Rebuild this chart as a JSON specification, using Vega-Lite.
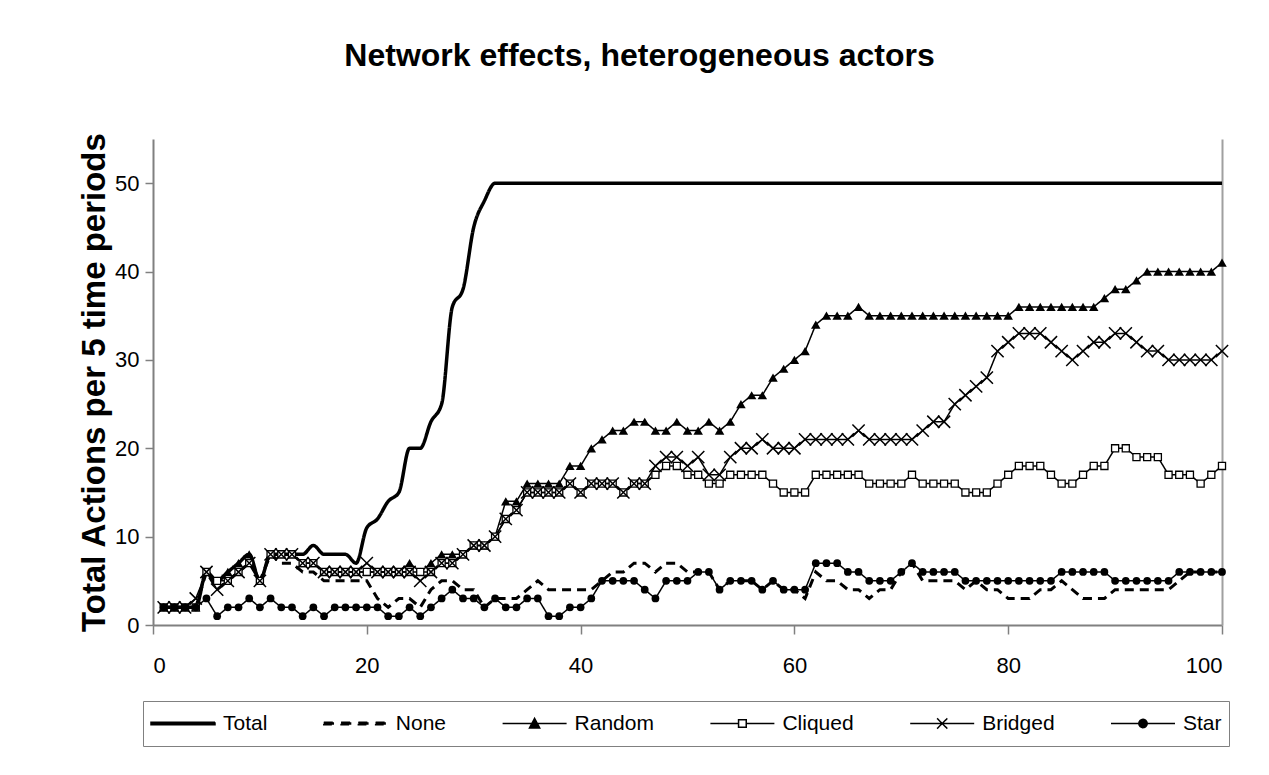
{
  "$schema": "https://vega.github.io/schema/vega-lite/v6.json",
  "width": 1069,
  "height": 486,
  "autosize": {"type": "none"},
  "padding": {"left": 153, "top": 139, "right": 47, "bottom": 150},
  "background": "white",
  "config": {"view": {"stroke": null}, "font": "Liberation Sans"},
  "title": {"text": "Network effects, heterogeneous actors", "font": "Liberation Sans", "fontSize": 32, "fontWeight": "bold", "color": "black", "anchor": "middle", "dx": -48, "offset": 59},
  "data": {"values": [
    {"t":1,"Total":2,"None":2,"Random":2,"Cliqued":2,"Bridged":2,"Star":2},
    {"t":2,"Total":2,"None":2,"Random":2,"Cliqued":2,"Bridged":2,"Star":2},
    {"t":3,"Total":2,"None":2,"Random":2,"Cliqued":2,"Bridged":2,"Star":2},
    {"t":4,"Total":2,"None":2,"Random":2,"Cliqued":2,"Bridged":3,"Star":2},
    {"t":5,"Total":6,"None":6,"Random":6,"Cliqued":6,"Bridged":6,"Star":3},
    {"t":6,"Total":5,"None":4,"Random":5,"Cliqued":5,"Bridged":4,"Star":1},
    {"t":7,"Total":6,"None":5,"Random":6,"Cliqued":5,"Bridged":5,"Star":2},
    {"t":8,"Total":7,"None":6,"Random":7,"Cliqued":6,"Bridged":6,"Star":2},
    {"t":9,"Total":8,"None":7,"Random":8,"Cliqued":7,"Bridged":7,"Star":3},
    {"t":10,"Total":5,"None":5,"Random":5,"Cliqued":5,"Bridged":5,"Star":2},
    {"t":11,"Total":8,"None":8,"Random":8,"Cliqued":8,"Bridged":8,"Star":3},
    {"t":12,"Total":8,"None":7,"Random":8,"Cliqued":8,"Bridged":8,"Star":2},
    {"t":13,"Total":8,"None":7,"Random":8,"Cliqued":8,"Bridged":8,"Star":2},
    {"t":14,"Total":8,"None":6,"Random":7,"Cliqued":7,"Bridged":7,"Star":1},
    {"t":15,"Total":9,"None":6,"Random":7,"Cliqued":7,"Bridged":7,"Star":2},
    {"t":16,"Total":8,"None":5,"Random":6,"Cliqued":6,"Bridged":6,"Star":1},
    {"t":17,"Total":8,"None":5,"Random":6,"Cliqued":6,"Bridged":6,"Star":2},
    {"t":18,"Total":8,"None":5,"Random":6,"Cliqued":6,"Bridged":6,"Star":2},
    {"t":19,"Total":7,"None":5,"Random":6,"Cliqued":6,"Bridged":6,"Star":2},
    {"t":20,"Total":11,"None":5,"Random":6,"Cliqued":6,"Bridged":7,"Star":2},
    {"t":21,"Total":12,"None":3,"Random":6,"Cliqued":6,"Bridged":6,"Star":2},
    {"t":22,"Total":14,"None":2,"Random":6,"Cliqued":6,"Bridged":6,"Star":1},
    {"t":23,"Total":15,"None":3,"Random":6,"Cliqued":6,"Bridged":6,"Star":1},
    {"t":24,"Total":20,"None":3,"Random":7,"Cliqued":6,"Bridged":6,"Star":2},
    {"t":25,"Total":20,"None":2,"Random":6,"Cliqued":6,"Bridged":5,"Star":1},
    {"t":26,"Total":23,"None":4,"Random":7,"Cliqued":6,"Bridged":6,"Star":2},
    {"t":27,"Total":25,"None":5,"Random":8,"Cliqued":7,"Bridged":7,"Star":3},
    {"t":28,"Total":36,"None":5,"Random":8,"Cliqued":7,"Bridged":7,"Star":4},
    {"t":29,"Total":38,"None":4,"Random":8,"Cliqued":8,"Bridged":8,"Star":3},
    {"t":30,"Total":45,"None":4,"Random":9,"Cliqued":9,"Bridged":9,"Star":3},
    {"t":31,"Total":48,"None":2,"Random":9,"Cliqued":9,"Bridged":9,"Star":2},
    {"t":32,"Total":50,"None":3,"Random":10,"Cliqued":10,"Bridged":10,"Star":3},
    {"t":33,"Total":50,"None":3,"Random":14,"Cliqued":12,"Bridged":12,"Star":2},
    {"t":34,"Total":50,"None":3,"Random":14,"Cliqued":13,"Bridged":13,"Star":2},
    {"t":35,"Total":50,"None":4,"Random":16,"Cliqued":15,"Bridged":15,"Star":3},
    {"t":36,"Total":50,"None":5,"Random":16,"Cliqued":15,"Bridged":15,"Star":3},
    {"t":37,"Total":50,"None":4,"Random":16,"Cliqued":15,"Bridged":15,"Star":1},
    {"t":38,"Total":50,"None":4,"Random":16,"Cliqued":15,"Bridged":15,"Star":1},
    {"t":39,"Total":50,"None":4,"Random":18,"Cliqued":16,"Bridged":16,"Star":2},
    {"t":40,"Total":50,"None":4,"Random":18,"Cliqued":15,"Bridged":15,"Star":2},
    {"t":41,"Total":50,"None":4,"Random":20,"Cliqued":16,"Bridged":16,"Star":3},
    {"t":42,"Total":50,"None":5,"Random":21,"Cliqued":16,"Bridged":16,"Star":5},
    {"t":43,"Total":50,"None":6,"Random":22,"Cliqued":16,"Bridged":16,"Star":5},
    {"t":44,"Total":50,"None":6,"Random":22,"Cliqued":15,"Bridged":15,"Star":5},
    {"t":45,"Total":50,"None":7,"Random":23,"Cliqued":16,"Bridged":16,"Star":5},
    {"t":46,"Total":50,"None":7,"Random":23,"Cliqued":16,"Bridged":16,"Star":4},
    {"t":47,"Total":50,"None":6,"Random":22,"Cliqued":17,"Bridged":18,"Star":3},
    {"t":48,"Total":50,"None":7,"Random":22,"Cliqued":18,"Bridged":19,"Star":5},
    {"t":49,"Total":50,"None":7,"Random":23,"Cliqued":18,"Bridged":19,"Star":5},
    {"t":50,"Total":50,"None":6,"Random":22,"Cliqued":17,"Bridged":18,"Star":5},
    {"t":51,"Total":50,"None":6,"Random":22,"Cliqued":17,"Bridged":19,"Star":6},
    {"t":52,"Total":50,"None":6,"Random":23,"Cliqued":16,"Bridged":17,"Star":6},
    {"t":53,"Total":50,"None":4,"Random":22,"Cliqued":16,"Bridged":17,"Star":4},
    {"t":54,"Total":50,"None":5,"Random":23,"Cliqued":17,"Bridged":19,"Star":5},
    {"t":55,"Total":50,"None":5,"Random":25,"Cliqued":17,"Bridged":20,"Star":5},
    {"t":56,"Total":50,"None":5,"Random":26,"Cliqued":17,"Bridged":20,"Star":5},
    {"t":57,"Total":50,"None":4,"Random":26,"Cliqued":17,"Bridged":21,"Star":4},
    {"t":58,"Total":50,"None":5,"Random":28,"Cliqued":16,"Bridged":20,"Star":5},
    {"t":59,"Total":50,"None":4,"Random":29,"Cliqued":15,"Bridged":20,"Star":4},
    {"t":60,"Total":50,"None":4,"Random":30,"Cliqued":15,"Bridged":20,"Star":4},
    {"t":61,"Total":50,"None":3,"Random":31,"Cliqued":15,"Bridged":21,"Star":4},
    {"t":62,"Total":50,"None":6,"Random":34,"Cliqued":17,"Bridged":21,"Star":7},
    {"t":63,"Total":50,"None":5,"Random":35,"Cliqued":17,"Bridged":21,"Star":7},
    {"t":64,"Total":50,"None":5,"Random":35,"Cliqued":17,"Bridged":21,"Star":7},
    {"t":65,"Total":50,"None":4,"Random":35,"Cliqued":17,"Bridged":21,"Star":6},
    {"t":66,"Total":50,"None":4,"Random":36,"Cliqued":17,"Bridged":22,"Star":6},
    {"t":67,"Total":50,"None":3,"Random":35,"Cliqued":16,"Bridged":21,"Star":5},
    {"t":68,"Total":50,"None":4,"Random":35,"Cliqued":16,"Bridged":21,"Star":5},
    {"t":69,"Total":50,"None":4,"Random":35,"Cliqued":16,"Bridged":21,"Star":5},
    {"t":70,"Total":50,"None":6,"Random":35,"Cliqued":16,"Bridged":21,"Star":6},
    {"t":71,"Total":50,"None":7,"Random":35,"Cliqued":17,"Bridged":21,"Star":7},
    {"t":72,"Total":50,"None":5,"Random":35,"Cliqued":16,"Bridged":22,"Star":6},
    {"t":73,"Total":50,"None":5,"Random":35,"Cliqued":16,"Bridged":23,"Star":6},
    {"t":74,"Total":50,"None":5,"Random":35,"Cliqued":16,"Bridged":23,"Star":6},
    {"t":75,"Total":50,"None":5,"Random":35,"Cliqued":16,"Bridged":25,"Star":6},
    {"t":76,"Total":50,"None":4,"Random":35,"Cliqued":15,"Bridged":26,"Star":5},
    {"t":77,"Total":50,"None":5,"Random":35,"Cliqued":15,"Bridged":27,"Star":5},
    {"t":78,"Total":50,"None":4,"Random":35,"Cliqued":15,"Bridged":28,"Star":5},
    {"t":79,"Total":50,"None":4,"Random":35,"Cliqued":16,"Bridged":31,"Star":5},
    {"t":80,"Total":50,"None":3,"Random":35,"Cliqued":17,"Bridged":32,"Star":5},
    {"t":81,"Total":50,"None":3,"Random":36,"Cliqued":18,"Bridged":33,"Star":5},
    {"t":82,"Total":50,"None":3,"Random":36,"Cliqued":18,"Bridged":33,"Star":5},
    {"t":83,"Total":50,"None":4,"Random":36,"Cliqued":18,"Bridged":33,"Star":5},
    {"t":84,"Total":50,"None":4,"Random":36,"Cliqued":17,"Bridged":32,"Star":5},
    {"t":85,"Total":50,"None":5,"Random":36,"Cliqued":16,"Bridged":31,"Star":6},
    {"t":86,"Total":50,"None":4,"Random":36,"Cliqued":16,"Bridged":30,"Star":6},
    {"t":87,"Total":50,"None":3,"Random":36,"Cliqued":17,"Bridged":31,"Star":6},
    {"t":88,"Total":50,"None":3,"Random":36,"Cliqued":18,"Bridged":32,"Star":6},
    {"t":89,"Total":50,"None":3,"Random":37,"Cliqued":18,"Bridged":32,"Star":6},
    {"t":90,"Total":50,"None":4,"Random":38,"Cliqued":20,"Bridged":33,"Star":5},
    {"t":91,"Total":50,"None":4,"Random":38,"Cliqued":20,"Bridged":33,"Star":5},
    {"t":92,"Total":50,"None":4,"Random":39,"Cliqued":19,"Bridged":32,"Star":5},
    {"t":93,"Total":50,"None":4,"Random":40,"Cliqued":19,"Bridged":31,"Star":5},
    {"t":94,"Total":50,"None":4,"Random":40,"Cliqued":19,"Bridged":31,"Star":5},
    {"t":95,"Total":50,"None":4,"Random":40,"Cliqued":17,"Bridged":30,"Star":5},
    {"t":96,"Total":50,"None":5,"Random":40,"Cliqued":17,"Bridged":30,"Star":6},
    {"t":97,"Total":50,"None":6,"Random":40,"Cliqued":17,"Bridged":30,"Star":6},
    {"t":98,"Total":50,"None":6,"Random":40,"Cliqued":16,"Bridged":30,"Star":6},
    {"t":99,"Total":50,"None":6,"Random":40,"Cliqued":17,"Bridged":30,"Star":6},
    {"t":100,"Total":50,"None":6,"Random":41,"Cliqued":18,"Bridged":31,"Star":6}
  ]},
  "transform": [{"fold": ["Total", "None", "Random", "Cliqued", "Bridged", "Star"], "as": ["series", "value"]}],
  "encoding": {
    "x": {"field": "t", "type": "quantitative", "scale": {"domain": [0, 100], "nice": false},
      "axis": {"values": [0, 20, 40, 60, 80, 100], "title": null, "grid": false, "labelFont": "Liberation Sans", "labelFontSize": 22, "labelColor": "black", "labelPadding": 21, "tickSize": 9, "tickColor": "#808080", "tickWidth": 1.5, "domainColor": "#808080", "domainWidth": 2}},
    "y": {"field": "value", "type": "quantitative", "scale": {"domain": [0, 55], "nice": false},
      "axis": {"values": [0, 10, 20, 30, 40, 50], "title": "Total Actions per 5 time periods", "titleFont": "Liberation Sans", "titleFontSize": 33, "titleFontWeight": "bold", "titleColor": "black", "titlePadding": 3, "grid": false, "labelFont": "Liberation Sans", "labelFontSize": 22, "labelColor": "black", "labelPadding": 6, "tickSize": 8, "tickColor": "#808080", "tickWidth": 1.5, "domainColor": "#808080", "domainWidth": 2}}
  },
  "layer": [
    {
      "layer": [
        {
          "transform": [{"filter": "datum.series !== 'Total' && datum.series !== 'None'"}],
          "mark": {"type": "line", "color": "black", "strokeWidth": 1.5},
          "encoding": {
            "strokeDash": {"field": "series", "type": "nominal",
              "scale": {"domain": ["Total", "None", "Random", "Cliqued", "Bridged", "Star"], "range": [[1, 0], [9, 6], [1, 0], [1, 0], [1, 0], [1, 0]]},
              "legend": {
                "orient": "none", "legendX": -10, "legendY": 562, "direction": "horizontal", "columns": 6, "title": null,
                "symbolSize": 4096, "symbolStrokeColor": "black", "symbolStrokeWidth": 1.5, "clipHeight": 31,
                "labelFont": "Liberation Sans", "labelFontSize": 21, "labelColor": "black", "labelOffset": 7,
                "columnPadding": 54.8, "padding": 7, "strokeColor": "#808080", "fillColor": "white",
                "encode": {"symbols": {"update": {
                  "shape": {"signal": "datum.value === 'Random' ? 'M-1,0H1M-0.16,0.14L0,-0.16L0.16,0.14Z' : datum.value === 'Cliqued' ? 'M-1,0H-0.12M0.12,0H1M-0.12,-0.12H0.12V0.12H-0.12Z' : datum.value === 'Bridged' ? 'M-1,0H1M-0.16,-0.16L0.16,0.16M-0.16,0.16L0.16,-0.16' : datum.value === 'Star' ? 'M-1,0H1M-0.13,0A0.13,0.13 0 1,0 0.13,0A0.13,0.13 0 1,0 -0.13,0Z' : datum.value === 'None' ? 'M-1,-0.04H-0.68V0.04H-1ZM-0.46,-0.04H-0.14V0.04H-0.46ZM0.08,-0.04H0.4V0.04H0.08ZM0.62,-0.04H0.94V0.04H0.62Z' : 'M-1,-0.04H1V0.04H-1Z'"},
                  "size": {"value": 4096},
                  "fill": {"signal": "datum.value === 'Cliqued' ? 'white' : 'black'"},
                  "stroke": {"value": "black"},
                  "strokeWidth": {"value": 1.5},
                  "strokeDash": {"value": [1, 0]},
                  "opacity": {"value": 1}
                }}}
              }},
            "detail": {"field": "series"}
          }
        },
        {
          "transform": [{"filter": "datum.series === 'None'"}],
          "mark": {"type": "line", "color": "black", "strokeWidth": 3},
          "encoding": {
            "strokeDash": {"field": "series", "type": "nominal", "scale": {"domain": ["Total", "None", "Random", "Cliqued", "Bridged", "Star"], "range": [[1, 0], [9, 6], [1, 0], [1, 0], [1, 0], [1, 0]]}}
          }
        },
        {
          "transform": [{"filter": "datum.series === 'Total'"}],
          "mark": {"type": "line", "color": "black", "strokeWidth": 3.5, "interpolate": "monotone"},
          "encoding": {
            "strokeDash": {"field": "series", "type": "nominal", "scale": {"domain": ["Total", "None", "Random", "Cliqued", "Bridged", "Star"], "range": [[1, 0], [9, 6], [1, 0], [1, 0], [1, 0], [1, 0]]}}
          }
        },
        {
          "transform": [{"filter": "datum.series === 'Random'"}],
          "mark": {"type": "point", "shape": "triangle-up", "filled": true, "color": "black", "size": 90, "opacity": 1}
        },
        {
          "transform": [{"filter": "datum.series === 'Cliqued'"}],
          "mark": {"type": "point", "shape": "square", "filled": false, "fill": "white", "stroke": "black", "strokeWidth": 1.3, "size": 50, "opacity": 1, "fillOpacity": 1}
        },
        {
          "transform": [{"filter": "datum.series === 'Bridged'"}],
          "mark": {"type": "point", "shape": "M-1,-1L1,1M-1,1L1,-1", "filled": false, "stroke": "black", "strokeWidth": 1.5, "size": 150, "opacity": 1}
        },
        {
          "transform": [{"filter": "datum.series === 'Star'"}],
          "mark": {"type": "point", "shape": "circle", "filled": true, "color": "black", "size": 60, "opacity": 1}
        }
      ]
    },
    {
      "transform": [{"filter": "datum.series === 'Total'"}],
      "mark": {"type": "point", "opacity": 0},
      "encoding": {
        "y": {"field": "value", "type": "quantitative", "scale": {"domain": [0, 55], "nice": false},
          "axis": {"orient": "right", "labels": false, "ticks": false, "title": null, "grid": false, "domainColor": "#a0a0a0", "domainWidth": 2}}
      }
    }
  ],
  "resolve": {"axis": {"y": "independent"}}
}
